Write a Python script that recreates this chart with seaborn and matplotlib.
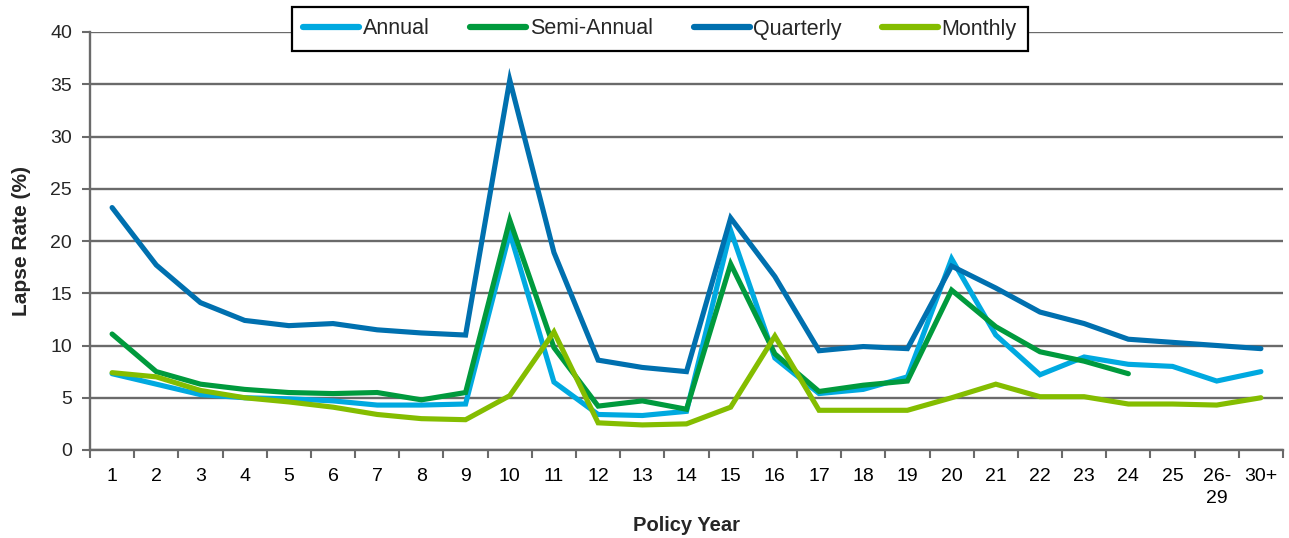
import numpy as np
import pandas as pd
import matplotlib
matplotlib.use("Agg")
import matplotlib.pyplot as plt
import seaborn as sns
from matplotlib.ticker import FixedLocator

categories = [str(i) for i in range(1, 26)] + ["26-\n29", "30+"]

annual = [7.3, 6.3, 5.3, 5.0, 4.9, 4.7, 4.3, 4.3, 4.4, 20.8, 6.5, 3.4, 3.3, 3.7,
          21.0, 8.8, 5.4, 5.8, 7.0, 18.3, 11.0, 7.2, 8.9, 8.2, 8.0, 6.6, 7.5]
semi_annual = [11.1, 7.5, 6.3, 5.8, 5.5, 5.4, 5.5, 4.8, 5.5, 22.0, 9.8, 4.2, 4.7, 3.9,
               17.8, 9.2, 5.6, 6.2, 6.6, 15.3, 11.8, 9.4, 8.5, 7.3, None, None, None]
quarterly = [23.2, 17.7, 14.1, 12.4, 11.9, 12.1, 11.5, 11.2, 11.0, 35.4, 18.9, 8.6, 7.9, 7.5,
             22.2, 16.6, 9.5, 9.9, 9.7, 17.6, 15.5, 13.2, 12.1, 10.6, 10.3, 10.0, 9.7]
monthly = [7.4, 7.0, 5.7, 5.0, 4.6, 4.1, 3.4, 3.0, 2.9, 5.2, 11.3, 2.6, 2.4, 2.5,
           4.1, 10.9, 3.8, 3.8, 3.8, 5.0, 6.3, 5.1, 5.1, 4.4, 4.4, 4.3, 5.0]

series_names = ["Annual", "Semi-Annual", "Quarterly", "Monthly"]
colors = ["#00A9E0", "#009A3D", "#0070AF", "#84BD00"]

rows = []
for name, vals in zip(series_names, [annual, semi_annual, quarterly, monthly]):
    for i, v in enumerate(vals):
        rows.append({"pos": i, "series": name, "value": np.nan if v is None else v})
df = pd.DataFrame(rows)

sns.set_theme(style="white")
plt.rcParams["font.family"] = ["Liberation Sans", "DejaVu Sans"]

fig = plt.figure(figsize=(12.89, 5.38), dpi=100)
ax = fig.add_axes([90 / 1289, 1 - 450 / 538, (1283 - 90) / 1289, (450 - 32) / 538])

sns.lineplot(data=df, x="pos", y="value", hue="series", hue_order=series_names,
             palette=colors, linewidth=3.7, ax=ax, legend=False,
             solid_capstyle="round", solid_joinstyle="miter")

ax.set_xlim(-0.5, len(categories) - 0.5)
ax.set_ylim(0, 40)
ax.set_yticks(np.arange(0, 41, 5))
ax.yaxis.grid(True, color="#6a6a6a", linewidth=1.7)
ax.set_axisbelow(True)

ax.set_xticks(np.arange(len(categories)))
ax.set_xticklabels(categories, fontsize=14, linespacing=1.35, va="top")
ax.xaxis.set_minor_locator(FixedLocator(np.arange(-0.5, len(categories), 1.0)))
ax.tick_params(axis="x", which="major", length=0, pad=13, colors="black")
ax.tick_params(axis="x", which="minor", length=6, width=1.5, color="#6a6a6a", bottom=True)
ax.tick_params(axis="y", which="major", length=6, width=1.5, color="#6a6a6a", labelsize=14, pad=7, left=True)

for s in ["top", "right"]:
    ax.spines[s].set_visible(False)
for s in ["left", "bottom"]:
    ax.spines[s].set_color("#6a6a6a")
    ax.spines[s].set_linewidth(1.7)

ax.set_xlabel("Policy Year", fontsize=14.5, fontweight="bold", labelpad=7)
ax.set_ylabel("Lapse Rate (%)", fontsize=15, fontweight="bold", labelpad=14)

handles = [plt.Line2D([0], [0], color=c, linewidth=4.5, solid_capstyle="round") for c in colors]
leg = fig.legend(handles, series_names, loc="center", ncol=4,
                 bbox_to_anchor=(660 / 1289, 1 - 29 / 538), fontsize=15.5,
                 frameon=True, fancybox=False, edgecolor="black", framealpha=1,
                 handlelength=2.6, handletextpad=0.15, columnspacing=1.9,
                 borderpad=0.55, borderaxespad=0)
leg.get_frame().set_linewidth(1.6)

fig.savefig("out.png", dpi=100)
